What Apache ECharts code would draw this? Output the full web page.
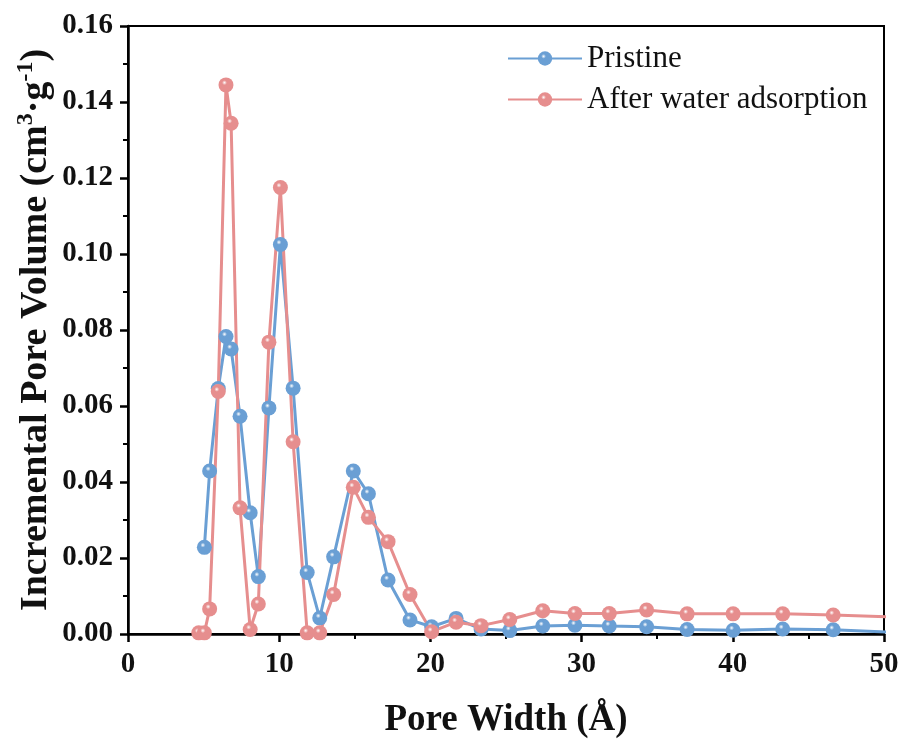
<!DOCTYPE html>
<html>
<head>
<meta charset="utf-8">
<script src="https://cdn.jsdelivr.net/npm/echarts@6/dist/echarts.min.js"></script>
<style>
  html, body { margin: 0; padding: 0; background: #fff; }
  #chart { width: 902px; height: 742px; }
</style>
</head>
<body>
<div id="chart"></div>
<script>
// pore width (Å), shared by both curves
const poreWidth = [4.68, 5.05, 5.4, 5.97, 6.48, 6.82, 7.41, 8.08, 8.62, 9.32, 10.08, 10.92, 11.85, 12.68, 13.6, 14.9, 15.9, 17.2, 18.65, 20.08, 21.7, 23.35, 25.25, 27.43, 29.56, 31.83, 34.3, 36.98, 40.02, 43.3, 46.64, 50.3]
const pristine = [null, 0.0228, 0.0429, 0.0646, 0.0783, 0.0750, 0.0573, 0.0319, 0.0151, 0.0595, 0.1025, 0.0647, 0.0162, 0.0042, 0.0203, 0.0429, 0.0369, 0.0142, 0.0037, 0.0019, 0.0041, 0.0013, 0.0009, 0.0021, 0.0023, 0.0021, 0.0019, 0.0012, 0.0010, 0.0013, 0.0011, 0.0005]
const afterWater = [0.0003, 0.0003, 0.0066, 0.0638, 0.1445, 0.1344, 0.0332, 0.0012, 0.0079, 0.0768, 0.1175, 0.0506, 0.0003, 0.0003, 0.0104, 0.0386, 0.0307, 0.0243, 0.0104, 0.0006, 0.0031, 0.0022, 0.0038, 0.0061, 0.0054, 0.0054, 0.0063, 0.0053, 0.0053, 0.0053, 0.0050, 0.0045]
const seriesNames = ['Pristine', 'After water adsorption']

const blue = '#6a9fd4'
const pink = '#e68e8e'
const font = '"Liberation Serif", "Times New Roman", serif'

const pairs = (ys) => poreWidth.map((x, i) => [x, ys[i]])

// little shaded ball for the markers
const ball = (c) => new echarts.graphic.RadialGradient(0.4, 0.35, 0.65, [
  { offset: 0, color: '#ffffff' },
  { offset: 0.25, color: c },
  { offset: 1, color: c }
])

const chart = echarts.init(document.getElementById('chart'))

const makeSeries = (name, ys, c) => ({
  name: name,
  type: 'line',
  data: pairs(ys),
  symbol: 'circle',
  symbolSize: 15,
  showSymbol: true,
  connectNulls: false,
  lineStyle: { width: 3, color: c },
  itemStyle: { color: ball(c), borderWidth: 0 },
  emphasis: { disabled: true }
})

const tickLabel = { fontFamily: font, fontSize: 29, fontWeight: 'bold', color: '#111' }

const option = {
  animation: false,
  color: [blue, pink],
  grid: {
    left: 128, right: 18, top: 26, bottom: 108,
    outerBoundsMode: 'none',
    show: true, borderColor: '#000', borderWidth: 2
  },
  legend: {
    data: seriesNames,
    orient: 'vertical',
    left: 502,
    top: 38,
    itemWidth: 74,
    itemHeight: 18,
    itemGap: 10,
    textStyle: { fontFamily: font, fontSize: 31, color: '#111' }
  },
  xAxis: {
    type: 'value',
    min: 0,
    max: 50,
    interval: 10,
    name: 'Pore Width (Å)',
    nameLocation: 'middle',
    nameGap: 68,
    nameTextStyle: { fontFamily: font, fontSize: 37, fontWeight: 'bold', color: '#111' },
    axisLine: { lineStyle: { color: '#000', width: 2.5 } },
    axisTick: { inside: false, length: 8, lineStyle: { color: '#000', width: 2.5 } },
    minorTick: { show: true, splitNumber: 2, length: 5, lineStyle: { color: '#000', width: 2 } },
    splitLine: { show: false },
    axisLabel: Object.assign({ margin: 16 }, tickLabel)
  },
  yAxis: {
    type: 'value',
    min: 0,
    max: 0.16,
    interval: 0.02,
    name: 'Incremental Pore Volume (cm{sup|3}·g{sup|-1})',
    nameLocation: 'middle',
    nameGap: 70,
    nameMoveOverlap: false,
    nameRotate: 90,
    nameTextStyle: {
      fontFamily: font, fontSize: 38, fontWeight: 'bold', color: '#111', lineHeight: 44,
      rich: {
        sup: { fontFamily: font, fontSize: 24, fontWeight: 'bold', color: '#111', lineHeight: 44, verticalAlign: 'top' }
      }
    },
    axisLine: { lineStyle: { color: '#000', width: 2.5 } },
    axisTick: { inside: false, length: 8, lineStyle: { color: '#000', width: 2.5 } },
    minorTick: { show: true, splitNumber: 2, length: 5, lineStyle: { color: '#000', width: 2 } },
    splitLine: { show: false },
    axisLabel: Object.assign({ margin: 15, formatter: (v) => v.toFixed(2) }, tickLabel)
  },
  series: [
    makeSeries(seriesNames[0], pristine, blue),
    makeSeries(seriesNames[1], afterWater, pink)
  ]
}

chart.setOption(option)
</script>
</body>
</html>
